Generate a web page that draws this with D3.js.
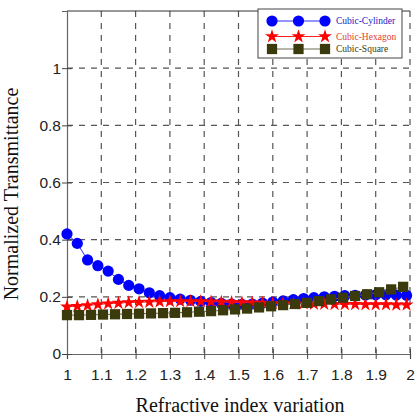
<!DOCTYPE html>
<html>
<head>
<meta charset="utf-8">
<script src="https://cdn.jsdelivr.net/npm/d3@7"></script>
<style>
  body { margin: 0; background: #fff; }
  .tick text { font-family: "Liberation Sans", Arial, sans-serif; font-size: 15.5px; fill: #222; }
  .axis-title { font-family: "Liberation Serif", "Times New Roman", serif; font-size: 20px; fill: #111; }
  .legend-text { font-family: "Liberation Serif", "Times New Roman", serif; font-size: 9.5px; }
</style>
</head>
<body>
<div id="chart"></div>
<script>
// Cubic-Cylinder and Cubic-Hexagon share the same x steps
const xCylHex = [1.00, 1.03, 1.06, 1.09, 1.12, 1.15, 1.18, 1.21, 1.24, 1.27, 1.30, 1.33, 1.36, 1.39, 1.42, 1.45, 1.48,
  1.51, 1.54, 1.57, 1.60, 1.63, 1.66, 1.69, 1.72, 1.75, 1.78, 1.81, 1.84, 1.87, 1.90, 1.93, 1.96, 1.99];
const cylinder = [0.420, 0.387, 0.329, 0.309, 0.290, 0.261, 0.240, 0.228, 0.214, 0.204, 0.197, 0.192, 0.188, 0.184,
  0.180, 0.177, 0.175, 0.174, 0.175, 0.178, 0.182, 0.186, 0.190, 0.194, 0.197, 0.200, 0.202, 0.204, 0.205, 0.206,
  0.207, 0.207, 0.206, 0.205];
const hexagon = [0.165, 0.167, 0.170, 0.173, 0.176, 0.178, 0.180, 0.181, 0.182, 0.183, 0.184, 0.184, 0.184, 0.184,
  0.183, 0.182, 0.181, 0.180, 0.179, 0.178, 0.177, 0.177, 0.176, 0.176, 0.175, 0.175, 0.174, 0.174, 0.174, 0.173,
  0.173, 0.173, 0.172, 0.172];
const xSquare = [1.000, 1.035, 1.070, 1.105, 1.140, 1.175, 1.210, 1.245, 1.280, 1.315, 1.350, 1.385, 1.420, 1.455,
  1.490, 1.525, 1.560, 1.595, 1.630, 1.665, 1.700, 1.735, 1.770, 1.805, 1.840, 1.875, 1.910, 1.945, 1.980];
const square = [0.136, 0.136, 0.137, 0.138, 0.139, 0.140, 0.141, 0.142, 0.143, 0.144, 0.146, 0.148, 0.150, 0.153,
  0.156, 0.159, 0.163, 0.167, 0.171, 0.175, 0.179, 0.185, 0.191, 0.197, 0.203, 0.209, 0.216, 0.226, 0.235];

const xTicks = [1, 1.1, 1.2, 1.3, 1.4, 1.5, 1.6, 1.7, 1.8, 1.9, 2];
const yTicks = [0, 0.2, 0.4, 0.6, 0.8, 1];

const width = 417, height = 420;
const margin = { top: 11, right: 7, bottom: 66, left: 67 };
const innerW = width - margin.left - margin.right;
const innerH = height - margin.top - margin.bottom;

const svg = d3.select('#chart').append('svg')
  .attr('width', width)
  .attr('height', height);

const g = svg.append('g').attr('transform', `translate(${margin.left},${margin.top})`);

const x = d3.scaleLinear().domain([1, 2]).range([0, innerW]);
const y = d3.scaleLinear().domain([0, 1.2]).range([innerH, 0]);

// grid
g.append('g').selectAll('line')
  .data(xTicks.slice(1))
  .enter().append('line')
  .attr('x1', d => x(d)).attr('x2', d => x(d))
  .attr('y1', 0).attr('y2', innerH)
  .attr('stroke', '#555').attr('stroke-width', 1.2).attr('stroke-dasharray', '6,6');

g.append('g').selectAll('line')
  .data(yTicks.slice(1))
  .enter().append('line')
  .attr('x1', 0).attr('x2', innerW)
  .attr('y1', d => y(d)).attr('y2', d => y(d))
  .attr('stroke', '#555').attr('stroke-width', 1.2).attr('stroke-dasharray', '6,6');

// top border
g.append('line')
  .attr('x1', 0).attr('x2', innerW).attr('y1', 0).attr('y2', 0)
  .attr('stroke', '#333').attr('stroke-width', 1.2);

// axes
const xAxis = g.append('g')
  .attr('transform', `translate(0,${innerH})`)
  .call(d3.axisBottom(x).tickValues(xTicks).tickFormat(d3.format('')).tickSize(5).tickPadding(10));
xAxis.selectAll('.tick line').attr('y1', -5).attr('y2', 5);

const yAxis = g.append('g')
  .call(d3.axisLeft(y).tickValues(yTicks).tickFormat(d3.format('')).tickSize(5).tickPadding(1));
yAxis.selectAll('.tick line').attr('x1', -5).attr('x2', 5);

[xAxis, yAxis].forEach(a => {
  a.select('.domain').attr('stroke', '#666').attr('stroke-width', 1.2);
  a.selectAll('.tick line').attr('stroke', '#444');
});

svg.append('text')
  .attr('class', 'axis-title')
  .attr('x', 240)
  .attr('y', 412)
  .attr('text-anchor', 'middle')
  .text('Refractive index variation');

svg.append('text')
  .attr('class', 'axis-title')
  .attr('transform', 'translate(18,194) rotate(-90)')
  .attr('text-anchor', 'middle')
  .text('Normalized Transmittance');

const star = d3.symbol().type(d3.symbolStar).size(60);
const sq = d3.symbol().type(d3.symbolSquare).size(105);

const line = d3.line().x(d => x(d[0])).y(d => y(d[1]));

const series = [
  { name: 'Cubic-Cylinder', xs: xCylHex, ys: cylinder, color: '#0000ff', line: '#2a2aff', text: '#2020c0', marker: 'circle' },
  { name: 'Cubic-Hexagon', xs: xCylHex, ys: hexagon, color: '#ff0000', line: '#ff2020', text: '#e04030', marker: 'star' },
  { name: 'Cubic-Square', xs: xSquare, ys: square, color: '#3a3a0c', line: '#6a6a50', text: '#3a3a0c', marker: 'square' }
];

function drawMarker(sel, s) {
  if (s.marker === 'circle') {
    sel.append('circle').attr('r', 5.6).attr('fill', s.color);
  } else if (s.marker === 'star') {
    sel.append('path').attr('d', star).attr('fill', s.color);
  } else {
    sel.append('path').attr('d', sq).attr('fill', s.color);
  }
}

const plot = g.append('g');
series.forEach(s => {
  const pts = s.xs.map((v, i) => [v, s.ys[i]]);
  plot.append('path')
    .datum(pts)
    .attr('fill', 'none')
    .attr('stroke', s.line)
    .attr('stroke-width', 1)
    .attr('d', line);
  plot.selectAll(null)
    .data(pts)
    .enter().append('g')
    .attr('transform', d => `translate(${x(d[0])},${y(d[1])})`)
    .each(function () { drawMarker(d3.select(this), s); });
});

// legend
const legend = svg.append('g').attr('transform', 'translate(258,9)');
legend.append('rect')
  .attr('width', 144).attr('height', 49)
  .attr('fill', '#fff').attr('stroke', '#444').attr('stroke-width', 1);
const rowY = [12, 27.5, 40];
series.forEach((s, i) => {
  const row = legend.append('g').attr('transform', `translate(0,${rowY[i]})`);
  row.append('line')
    .attr('x1', 14).attr('x2', 67).attr('y1', 0).attr('y2', 0)
    .attr('stroke', s.line).attr('stroke-width', 1);
  [14, 40.5, 67].forEach(px => {
    drawMarker(row.append('g').attr('transform', `translate(${px},0)`), s);
  });
  row.append('text')
    .attr('class', 'legend-text')
    .attr('x', 78).attr('y', 3)
    .attr('fill', s.text)
    .text(s.name);
});
</script>
</body>
</html>
